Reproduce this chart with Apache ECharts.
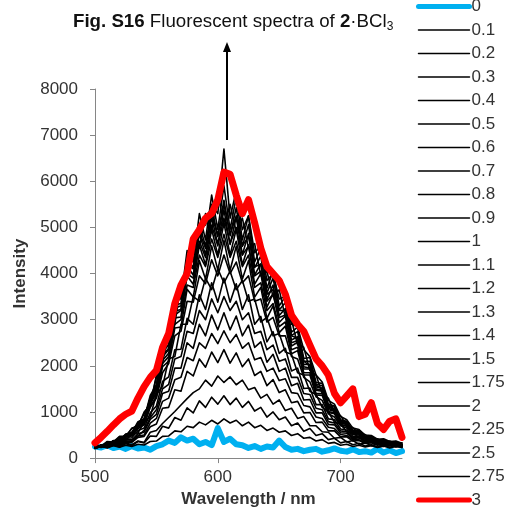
<!DOCTYPE html>
<html><head><meta charset="utf-8">
<script src="https://cdn.jsdelivr.net/npm/echarts@6/dist/echarts.min.js"></script>
<style>html,body{margin:0;padding:0;background:#fff}#c{width:512px;height:513px}</style>
</head><body><div id="c"></div>
<script>
const wavelength = [500,505,510,515,520,525,530,535,540,545,550,555,560,565,570,575,580,585,590,595,600,605,610,615,620,625,630,635,640,645,650,655,660,665,670,675,680,685,690,695,700,705,710,715,720,725,730,735,740,745,750];
const s0 = [250,230,280,220,250,200,260,210,230,180,260,300,380,330,450,380,420,300,350,280,650,350,420,300,280,220,260,200,250,230,380,240,180,200,150,180,200,140,170,210,160,140,190,130,150,120,200,120,170,110,150];
const s01 = [210,250,225,270,235,280,250,300,285,360,370,470,480,590,570,690,660,780,720,820,740,850,760,820,700,780,660,710,600,650,560,590,490,530,430,450,370,400,320,340,280,300,250,280,240,270,230,260,220,250,230];
const s02 = [210,260,225,285,240,310,270,360,330,480,470,690,650,880,820,1090,980,1240,1100,1320,1170,1350,1160,1300,1100,1230,1020,1100,890,1000,830,890,700,760,580,640,490,530,400,430,330,360,290,320,260,290,240,280,235,270,230];
const s03 = [240,260,230,290,260,330,290,370,340,560,600,750,880,1010,1150,1290,1420,1500,1690,1560,1780,1640,1760,1590,1690,1480,1530,1300,1380,1170,1260,1030,1080,860,900,700,700,570,560,430,450,350,380,300,330,270,300,250,290,240,270];
const s04 = [220,260,245,300,280,350,340,450,470,680,740,1080,1100,1480,1450,1880,1780,2150,1970,2300,2070,2350,2060,2280,1980,2150,1790,1880,1570,1700,1420,1480,1200,1230,980,990,770,780,590,590,460,460,370,380,315,330,280,305,265,290,250];
const s05 = [230,270,250,310,290,370,360,480,500,760,860,1230,1300,1700,1750,2180,2110,2500,2380,2700,2480,2760,2500,2680,2380,2500,2130,2180,1880,1950,1680,1720,1420,1400,1140,1110,890,860,670,640,510,490,400,400,340,340,300,310,270,290,260];
const s06 = [215,270,255,320,305,400,390,530,560,840,950,1400,1450,1950,1950,2500,2380,2900,2650,3100,2780,3150,2780,3080,2650,2880,2400,2520,2080,2250,1880,1950,1570,1620,1260,1270,980,980,730,720,550,540,420,440,350,365,305,330,280,305,260];
const s07 = [220,260,270,320,320,400,400,480,600,880,1050,1500,1600,2150,2200,2750,2700,3200,3000,3450,3150,3500,3200,3400,3000,3150,2700,2750,2350,2450,2100,2150,1750,1750,1400,1380,1080,1050,790,760,590,570,440,450,370,370,320,330,290,310,270];
const s08 = [215,270,265,340,330,430,440,600,650,980,1130,1660,1760,2350,2360,3030,2900,3540,3220,3800,3380,3900,3380,3780,3220,3540,2900,3070,2520,2740,2270,2380,1890,1950,1510,1520,1160,1160,850,830,630,610,470,480,380,395,325,350,295,320,270];
const s09 = [260,230,310,300,390,390,520,550,780,900,1380,1550,2150,2200,2900,2900,3500,3400,3900,3650,4100,3800,4050,3650,3850,3400,3450,2950,3050,2650,2700,2300,2250,1850,1800,1450,1380,1100,1000,780,740,570,550,440,440,360,370,320,330,290,300];
const s10 = [220,270,280,340,350,450,480,640,720,1100,1300,1850,2050,2650,2750,3400,3380,3950,3780,4300,3950,4400,4000,4250,3800,3950,3400,3450,2950,3050,2650,2650,2200,2150,1750,1650,1330,1250,960,890,700,650,510,500,410,400,340,350,310,320,280];
const s11 = [215,275,280,355,355,470,490,670,740,1130,1330,1980,2100,2820,2840,3660,3490,4280,3880,4600,4080,4720,4070,4590,3880,4280,3490,3700,3030,3300,2720,2860,2260,2330,1800,1800,1370,1360,990,960,720,690,525,530,415,425,345,375,310,340,280];
const s12 = [230,280,290,360,360,480,500,690,760,1180,1400,2050,2200,2900,3000,3750,3700,4400,4150,4750,4350,4850,4350,4700,4150,4400,3700,3800,3200,3350,2850,2950,2350,2400,1850,1850,1400,1400,1010,980,730,700,530,540,420,430,350,370,310,340,280];
const s13 = [215,280,285,365,365,490,510,710,790,1210,1430,2120,2270,3040,3060,3950,3770,4620,4190,4960,4400,5100,4400,4960,4190,4620,3770,4000,3270,3570,2940,3080,2430,2510,1930,1930,1470,1450,1050,1020,760,730,550,555,435,440,360,385,320,345,285];
const s14 = [240,280,300,370,380,510,520,720,800,1250,1480,2200,2350,3100,3200,4000,3900,4700,4350,5050,4600,5200,4650,5000,4400,4600,3950,4050,3400,3550,3050,3100,2500,2550,1980,1950,1500,1470,1080,1020,770,740,560,560,440,440,360,380,320,340,290];
const s15 = [215,280,290,370,375,500,525,735,820,1260,1500,2230,2380,3190,3220,4160,3970,4870,4410,5220,4630,5380,4630,5220,4410,4870,3970,4210,3440,3750,3090,3240,2560,2630,2030,2030,1540,1520,1100,1060,790,755,570,575,445,450,365,390,325,350,290];
const s175 = [250,250,320,360,420,480,560,740,850,1300,1550,2300,2450,3250,3300,4200,4100,4900,4550,5300,4800,5500,4850,5250,4600,4800,4150,4200,3550,3650,3200,3200,2650,2600,2100,2000,1580,1500,1130,1050,810,750,580,570,450,450,370,390,330,350,290];
const s20 = [215,280,290,375,380,510,540,760,840,1310,1550,2310,2470,3320,3350,4320,4130,5060,4590,5430,4820,5590,4820,5430,4590,5060,4130,4380,3580,3900,3210,3370,2660,2740,2100,2100,1600,1570,1140,1100,815,780,585,590,455,460,375,395,330,355,290];
const s225 = [270,240,350,330,460,450,650,680,1000,1150,1800,2050,2800,2900,3800,3900,4700,4550,5300,4900,5800,5000,5500,4900,5200,4550,4650,3950,4050,3500,3650,3050,3000,2450,2400,1900,1800,1400,1300,980,920,690,660,520,510,410,420,350,370,310,330];
const s25 = [215,285,290,380,385,520,550,790,850,1360,1590,2400,2540,3450,3450,4500,4250,5300,4730,5700,4960,5900,4960,5650,4730,5250,4250,4550,3680,4050,3300,3500,2730,2840,2160,2180,1640,1620,1170,1130,830,800,600,600,460,470,380,400,330,360,290];
const s275 = [280,260,360,350,470,480,640,720,960,1200,1750,2150,2700,3300,3500,4250,4500,5000,5050,5500,5300,6700,5200,5800,4950,5250,4450,4600,3850,4000,3450,3500,2900,2850,2350,2200,1800,1650,1250,1170,900,830,650,620,500,490,410,420,360,370,320];
const s3 = [330,450,580,720,850,950,1020,1300,1550,1750,1900,2400,2700,3350,3750,4000,4750,4950,5200,5300,5600,6200,6150,5700,5300,5600,5100,4550,4150,4000,3850,3550,3100,2900,2750,2450,2150,2000,1800,1400,1200,1350,1500,900,950,1200,750,620,800,850,450];

const seriesNames = ['0','0.1','0.2','0.3','0.4','0.5','0.6','0.7','0.8','0.9','1','1.1','1.2','1.3','1.4','1.5','1.75','2','2.25','2.5','2.75','3'];
const seriesValues = [s0,s01,s02,s03,s04,s05,s06,s07,s08,s09,s10,s11,s12,s13,s14,s15,s175,s20,s225,s25,s275,s3];

const FONT = '"Liberation Sans", Arial, sans-serif';
const last = seriesNames.length - 1;
const colorOf = i => i===0 ? '#00B0F0' : (i===last ? '#FF0000' : '#000000');
const widthOf = i => i===0 ? 6 : (i===last ? 7 : 1.6);
const chart = echarts.init(document.getElementById('c'), null, {renderer:'canvas'});
chart.setOption({
  animation:false,
  backgroundColor:'#fff',
  title:{
    left:68, top:6,
    text:'{b|Fig. S16} Fluorescent spectra of {b|2}·BCl{s|3}',
    textStyle:{fontSize:18.7, fontWeight:'normal', color:'#111', fontFamily:FONT,
      rich:{
        b:{fontWeight:'bold', fontSize:18.7, color:'#111', fontFamily:FONT},
        s:{fontSize:12, color:'#111', fontFamily:FONT, padding:[10,0,0,0]}
      }}
  },
  grid:{left:95, right:110, top:89, bottom:48},
  legend:{
    orient:'vertical', left:416, top:-2, padding:0,
    itemWidth:51, itemHeight:14, itemGap:6.5,
    itemStyle:{opacity:0},
    textStyle:{fontSize:17, color:'#333', fontFamily:FONT, lineHeight:17, padding:[0,0,0,-3]},
    data:seriesNames.map((n,i)=>({name:n, lineStyle:{width:i===0||i===last?5:1.5, color:colorOf(i), cap:'round'}}))
  },
  xAxis:{
    type:'value', min:500, max:750, interval:100,
    name:'Wavelength / nm', nameLocation:'middle', nameGap:31,
    nameTextStyle:{fontSize:17, fontWeight:'bold', color:'#333', fontFamily:FONT},
    axisLine:{lineStyle:{color:'#868686'}},
    axisTick:{show:true, length:5, lineStyle:{color:'#868686'}},
    axisLabel:{fontSize:17, color:'#333', fontFamily:FONT, margin:11, showMaxLabel:false},
    splitLine:{show:false}
  },
  yAxis:{
    type:'value', min:0, max:8000, interval:1000,
    name:'Intensity', nameLocation:'middle', nameGap:65,
    nameTextStyle:{fontSize:17, fontWeight:'bold', color:'#333', fontFamily:FONT},
    axisLine:{show:true, lineStyle:{color:'#868686'}},
    axisTick:{show:true, length:5, lineStyle:{color:'#868686'}},
    axisLabel:{fontSize:17, color:'#333', fontFamily:FONT, margin:17, formatter:v=>String(v)},
    splitLine:{show:false}
  },
  series: seriesNames.map((n,i)=>({
    name:n, type:'line', symbol:'none', showSymbol:false,
    data: wavelength.map((x,j)=>[x, seriesValues[i][j]]),
    lineStyle:{width:widthOf(i), color:colorOf(i), cap:'round', join:'round'},
    itemStyle:{color:colorOf(i)},
    z: i===last ? 5 : 2
  })),
  graphic:[
    {type:'line', shape:{x1:227,y1:140,x2:227,y2:50}, style:{stroke:'#000', lineWidth:2}},
    {type:'polygon', shape:{points:[[227,42],[223,52],[231,52]]}, style:{fill:'#000'}}
  ]
});
</script></body></html>
